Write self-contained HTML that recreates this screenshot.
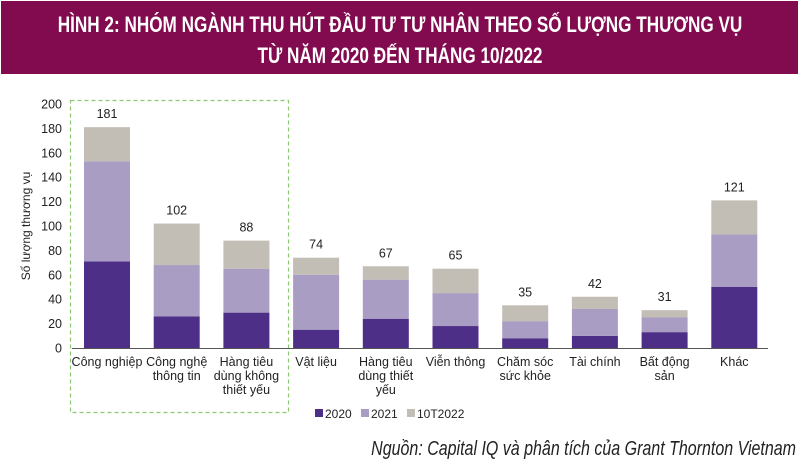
<!DOCTYPE html>
<html><head><meta charset="utf-8">
<style>
html,body{margin:0;padding:0;background:#fff;width:800px;height:463px;overflow:hidden;}
svg{display:block;font-family:"Liberation Sans",sans-serif;}
</style></head>
<body>
<svg id="chart" width="800" height="463" viewBox="0 0 800 463" xmlns="http://www.w3.org/2000/svg">
  <rect x="1" y="1" width="797" height="73" fill="#820a4e"/>
  <g font-weight="bold" fill="#fff" font-size="22" text-anchor="middle">
    <text x="400" y="32" transform="translate(400 0) scale(0.78 1) translate(-400 0)">HÌNH 2: NHÓM NGÀNH THU HÚT ĐẦU TƯ TƯ NHÂN THEO SỐ LƯỢNG THƯƠNG VỤ</text>
    <text x="400" y="63" transform="translate(400 0) scale(0.78 1) translate(-400 0)">TỪ NĂM 2020 ĐẾN THÁNG 10/2022</text>
  </g>
  <rect x="70.5" y="100.5" width="218" height="312" fill="none" stroke="#8cc872" stroke-width="1.2" stroke-dasharray="4,3"/>
  <text transform="translate(30 226) rotate(-90)" font-size="12" fill="#222" text-anchor="middle">Số lượng thương vụ</text>
  <g id="yaxis"></g>
  <g id="bars"></g>
  <line x1="72" y1="348.5" x2="768" y2="348.5" stroke="#555" stroke-width="1"/>
  <g id="xlabels" font-size="12.5" fill="#222" text-anchor="middle"></g>
  <g font-size="12" fill="#222">
    <g><rect x="315" y="409" width="8" height="8" fill="#4e2f87"/><text x="325" y="418">2020</text></g>
    <g><rect x="361" y="409" width="8" height="8" fill="#a99dc4"/><text x="371" y="418">2021</text></g>
    <g><rect x="407" y="409" width="8" height="8" fill="#c2bdb5"/><text x="417" y="418">10T2022</text></g>
  </g>
  <text x="796" y="455" font-size="20" font-style="italic" fill="#222" text-anchor="end" transform="translate(796 0) scale(0.8 1) translate(-796 0)">Nguồn: Capital IQ và phân tích của Grant Thornton Vietnam</text>
</svg>
<script>
const categories = [["Công nghiệp"],["Công nghệ","thông tin"],["Hàng tiêu","dùng không","thiết yếu"],["Vật liệu"],["Hàng tiêu","dùng thiết","yếu"],["Viễn thông"],["Chăm sóc","sức khỏe"],["Tài chính"],["Bất động","sản"],["Khác"]];
const s2020 = [71,26,29,15,24,18,8,10,13,50];
const s2021 = [82,42,36,45,32,27,14,22,12,43];
const s10T2022 = [28,34,23,14,11,20,13,10,6,28];
const totals = [181,102,88,74,67,65,35,42,31,121];
const yTicks = [0,20,40,60,80,100,120,140,160,180,200];

const NS="http://www.w3.org/2000/svg";
const y0=348, pxPer=(348-104)/200;
const yScale=v=>y0-v*pxPer;
const xCenter=i=>107+i*69.7;
const bw=46;
function mk(t,attrs,parent){const e=document.createElementNS(NS,t);for(const k in attrs)e.setAttribute(k,attrs[k]);parent.appendChild(e);return e;}
const ya=document.getElementById('yaxis');
yTicks.forEach(v=>{
  const t=mk('text',{x:62,y:yScale(v)+4.5,'font-size':12.5,fill:'#222','text-anchor':'end'},ya);
  
  
  t.textContent=v;
});
const bars=document.getElementById('bars');
const series=[[s2020,'#4e2f87','2020'],[s2021,'#a99dc4','2021'],[s10T2022,'#c2bdb5','10t2022']];
categories.forEach((c,i)=>{
  let cum=0;
  series.forEach(([arr,col,nm])=>{
    const v=arr[i];
    const r=mk('rect',{x:xCenter(i)-bw/2,y:yScale(cum+v),width:bw,height:v*pxPer,fill:col},bars);
    
    
    cum+=v;
  });
  const t=mk('text',{x:xCenter(i),y:yScale(totals[i])-9,'font-size':12.5,fill:'#222','text-anchor':'middle'},bars);
  
  
  t.textContent=totals[i];
});
const xl=document.getElementById('xlabels');
categories.forEach((lines,i)=>{
  const t=mk('text',{x:xCenter(i),y:366},xl);
  
  
  lines.forEach((ln,j)=>{const s=mk('tspan',{x:xCenter(i),dy:j?14:0},t);s.textContent=ln;});
});
</script>
</body></html>
